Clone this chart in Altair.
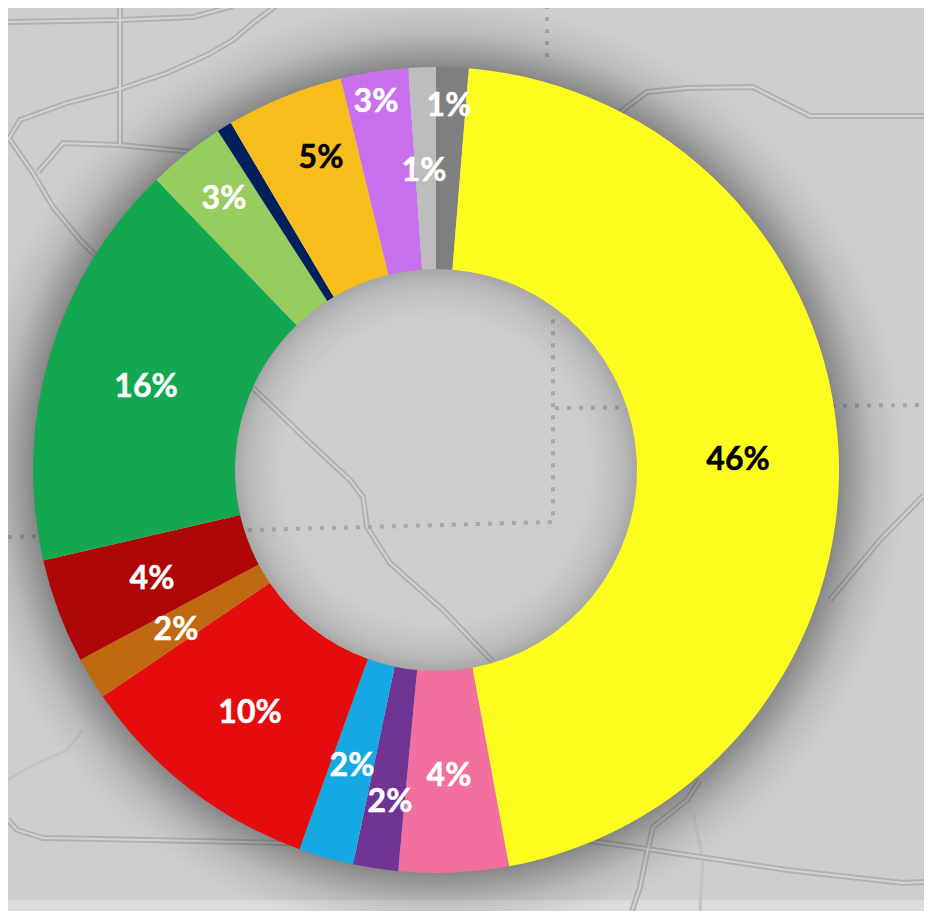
import altair as alt
import pandas as pd

# donut values (percent of the circle, clockwise from 12 o'clock)
shares = [1.3, 45.8, 4.4, 1.8, 2.2, 10.0, 1.7, 4.2, 16.4, 3.1, 0.6, 4.7, 2.7, 1.1]
colors = ["#7F7F7F", "#FDFC1F", "#F1709F", "#6F3493", "#14A9E3", "#E40C0C", "#BF6A10",
          "#AE0606", "#14A751", "#97CC5E", "#02205C", "#F6BD1B", "#C970EE", "#BDBDBD"]

# labels
label_text = ["1%", "46%", "4%", "2%", "2%", "10%", "2%", "4%", "16%", "3%", "5%", "3%", "1%"]
label_x = [449, 738, 449, 390, 352, 250, 176, 152, 146, 224, 321, 376, 424]
label_y = [106, 460, 776, 802, 766, 713, 630, 579, 387, 199, 158, 102, 171]
label_color = ["white", "black", "white", "white", "white", "white", "white", "white",
               "white", "white", "black", "white", "white"]

# map roads
roads = {
    "a": [(8, 140), (20, 120), (67, 103), (120, 89), (167, 73), (207, 55), (233, 40), (253, 23), (277, 5)],
    "b": [(120, 5), (120, 145)],
    "c": [(8, 22), (120, 20), (193, 17), (233, 6)],
    "d": [(38, 172), (63, 143), (120, 145), (193, 152), (240, 160)],
    "e": [(8, 137), (33, 173), (53, 207), (80, 240), (110, 270)],
    "f": [(610, 125), (623, 110), (647, 92), (687, 88), (753, 87), (810, 116), (924, 116)],
    "g": [(8, 820), (17, 830), (43, 838), (100, 839), (290, 843), (340, 848)],
    "h": [(510, 830), (620, 845), (707, 858), (787, 870), (903, 883), (924, 882)],
    "i": [(700, 780), (687, 800), (653, 827), (647, 853), (640, 887), (632, 911)],
    "j": [(924, 495), (880, 540), (830, 600)],
    "k": [(253, 388), (310, 443), (350, 480), (363, 497), (367, 527), (390, 563), (443, 610), (493, 662)],
}
faint_roads = {
    "l": [(8, 780), (33, 765), (67, 750), (83, 730)],
    "m": [(693, 813), (703, 860), (700, 911)],
}
dotted_roads = {
    "n": [(8, 537), (253, 530), (553, 522), (553, 313)],
    "o": [(555, 408), (924, 405)],
    "p": [(547, 5), (547, 60)],
}

def frame(paths):
    return pd.DataFrame([{"road": k, "i": n, "px": p[0], "py": p[1]}
                         for k, pts in paths.items() for n, p in enumerate(pts)])

W, H = 916, 903
xs = alt.Scale(domain=[8, 8 + W], range=[0, W])
ys = alt.Scale(domain=[8, 8 + H], range=[0, H])
X = lambda f: alt.X(f, type="quantitative", scale=xs, axis=None)
Y = lambda f: alt.Y(f, type="quantitative", scale=ys, axis=None)
CX, CY = alt.value(428), alt.value(462)

panels = pd.DataFrame({"x0": [8, 8, 925], "x1": [925, 925, 932], "y0": [8, 900, 8],
                       "y1": [900, 911, 911], "c": ["#CECECE", "#DCDCDC", "#E3E3E3"]})
panel = alt.Chart(panels).mark_rect().encode(
    x=X("x0"), x2="x1", y=Y("y0"), y2="y1", color=alt.Color("c:N", scale=None))

def road_layer(paths, color, width, **kw):
    return alt.Chart(frame(paths)).mark_line(color=color, strokeWidth=width, **kw).encode(
        x=X("px"), y=Y("py"), detail="road:N", order="i:Q")

one = pd.DataFrame({"a": [0]})
full = 6.2832
outer_shadow = alt.Chart(one).mark_arc(
    theta=0, theta2=full, radius=470, radius2=395,
    fill=alt.RadialGradient(gradient="radial", x1=0.5, y1=0.5, r1=0, x2=0.5, y2=0.5, r2=0.5, stops=[
        alt.GradientStop(color="rgba(0,0,0,0.34)", offset=0.857),
        alt.GradientStop(color="rgba(0,0,0,0.22)", offset=0.89),
        alt.GradientStop(color="rgba(0,0,0,0.10)", offset=0.93),
        alt.GradientStop(color="rgba(0,0,0,0.03)", offset=0.97),
        alt.GradientStop(color="rgba(0,0,0,0)", offset=1),
    ])).encode(x=CX, y=CY)
inner_shadow = alt.Chart(one).mark_arc(
    theta=0, theta2=full, radius=205, radius2=0,
    fill=alt.RadialGradient(gradient="radial", x1=0.5, y1=0.5, r1=0, x2=0.5, y2=0.5, r2=0.5, stops=[
        alt.GradientStop(color="rgba(0,0,0,0)", offset=0.75),
        alt.GradientStop(color="rgba(0,0,0,0.05)", offset=0.85),
        alt.GradientStop(color="rgba(0,0,0,0.12)", offset=0.93),
        alt.GradientStop(color="rgba(0,0,0,0.22)", offset=1),
    ])).encode(x=CX, y=CY)

donut = pd.DataFrame({"share": shares, "color": colors, "n": range(len(shares))})
arcs = alt.Chart(donut).mark_arc(radius=403, radius2=201).encode(
    theta=alt.Theta("share:Q", stack=True, scale=alt.Scale(domain=[0, sum(shares)], range=[0, full])),
    order=alt.Order("n:Q"),
    color=alt.Color("color:N", scale=None),
    x=CX, y=CY)

labels_df = pd.DataFrame({"t": label_text, "lx": label_x, "ly": label_y, "c": label_color})
labels = alt.Chart(labels_df).mark_text(
    font="Lato", fontWeight="bold", fontSize=32, baseline="middle", align="center", strokeWidth=0.5).encode(
    x=X("lx"), y=Y("ly"), text="t:N", color=alt.Color("c:N", scale=None),
    stroke=alt.Stroke("c:N", scale=None))

chart = alt.layer(
    panel,
    road_layer(faint_roads, "#C4C4C4", 3),
    road_layer(roads, "#B2B2B2", 6),
    road_layer(roads, "#D4D4D4", 2),
    road_layer(dotted_roads, "#A8A8A8", 4, strokeDash=[4, 8]),
    outer_shadow,
    inner_shadow,
    arcs,
    labels,
).resolve_scale(color="independent", theta="independent").properties(
    width=W, height=H, padding=0, autosize=alt.AutoSizeParams(type="none"),
).configure_view(stroke=None)

chart.save("out.html", embed_options={"renderer": "svg", "actions": False})
